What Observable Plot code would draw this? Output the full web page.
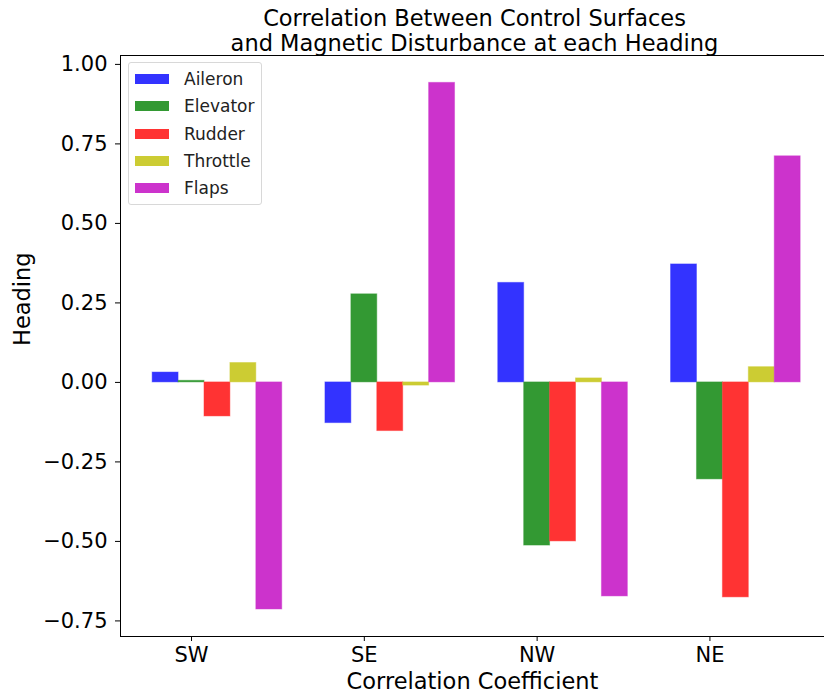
<!DOCTYPE html>
<html>
<head>
<meta charset="utf-8">
<script src="https://cdn.jsdelivr.net/npm/d3@7"></script>
<script src="https://cdn.jsdelivr.net/npm/@observablehq/plot@0.6"></script>
<style>
  body { margin: 0; background: #fff; font-family: "DejaVu Sans", sans-serif; }
  #wrap { position: relative; width: 824px; height: 696px; overflow: hidden; }
  #legend { position: absolute; left: 128px; top: 62px; width: 134px; height: 143px;
    border: 1px solid #d8d8d8; border-radius: 3px; background: rgba(255,255,255,0.8);
    box-sizing: border-box; font-size: 17px; color: #222; }
  .item { position: absolute; left: 6px; height: 20px; display: flex; align-items: center; }
  .sw { width: 34px; height: 10px; margin-right: 15px; }
</style>
</head>
<body>
<div id="wrap"><div id="chart"></div><div id="legend"></div></div>
<script>
const headings = ["SW", "SE", "NW", "NE"];
const surfaces = ["Aileron", "Elevator", "Rudder", "Throttle", "Flaps"];
const colors = ["#3333ff", "#339933", "#ff3333", "#cccc33", "#cc33cc"];
const aileron  = [0.031, -0.128, 0.313, 0.371];
const elevator = [0.005, 0.277, -0.513, -0.305];
const rudder   = [-0.107, -0.153, -0.500, -0.676];
const throttle = [0.061, -0.010, 0.0126, 0.048];
const flaps    = [-0.714, 0.942, -0.673, 0.711];
const yTicks = [-0.75, -0.5, -0.25, 0, 0.25, 0.5, 0.75, 1.0];
const titleText = "Correlation Between Control Surfaces\nand Magnetic Disturbance at each Heading";

const series = [aileron, elevator, rudder, throttle, flaps];
const barW = 0.15;
const data = [];
series.forEach((vals, s) => vals.forEach((v, h) => {
  const c = h + (s - 1) * barW;
  data.push({surface: surfaces[s], heading: headings[h], x1: c - barW / 2, x2: c + barW / 2, value: v});
}));

const chart = Plot.plot({
  width: 824, height: 696,
  marginLeft: 120, marginRight: 0, marginTop: 55, marginBottom: 60,
  style: {fontFamily: "DejaVu Sans, sans-serif", fontSize: "21px", color: "#000", background: "#fff"},
  x: {type: "linear", domain: [-0.411, 3.663]},
  y: {domain: [-0.799, 1.028]},
  color: {domain: surfaces, range: colors},
  marks: [
    Plot.rect(data, {x1: "x1", x2: "x2", y1: 0, y2: "value", fill: "surface",
      stroke: "surface", strokeOpacity: 0.45, strokeWidth: 1}),
    Plot.frame({stroke: "#000", strokeWidth: 1}),
    Plot.axisY({ticks: yTicks, tickFormat: d3.format(".2f"), tickSize: 5, tickPadding: 8,
      fontSize: 21, label: null}),
    Plot.axisX({ticks: [0, 1, 2, 3], tickFormat: i => headings[i], tickSize: 5, tickPadding: 6,
      fontSize: 21, label: null}),
    Plot.text(["Heading"], {frameAnchor: "left", dx: -98, rotate: -90, fontSize: 22.5, fill: "#000"}),
    Plot.text(["Correlation Coefficient"], {frameAnchor: "bottom", dx: 0, dy: 37, fontSize: 22.5, fill: "#000", lineAnchor: "top"}),
    Plot.text([titleText], {frameAnchor: "top", dx: 2, dy: -5, fontSize: 22.5, lineHeight: 1.07, fill: "#000", lineAnchor: "bottom"})
  ]
});
document.getElementById("chart").appendChild(chart);

const legend = document.getElementById("legend");
surfaces.forEach((s, i) => {
  const d = document.createElement("div");
  d.className = "item";
  d.style.top = (6 + i * 27.3) + "px";
  d.innerHTML = `<span class="sw" style="background:${colors[i]}"></span><span>${s}</span>`;
  legend.appendChild(d);
});
</script>
</body>
</html>
